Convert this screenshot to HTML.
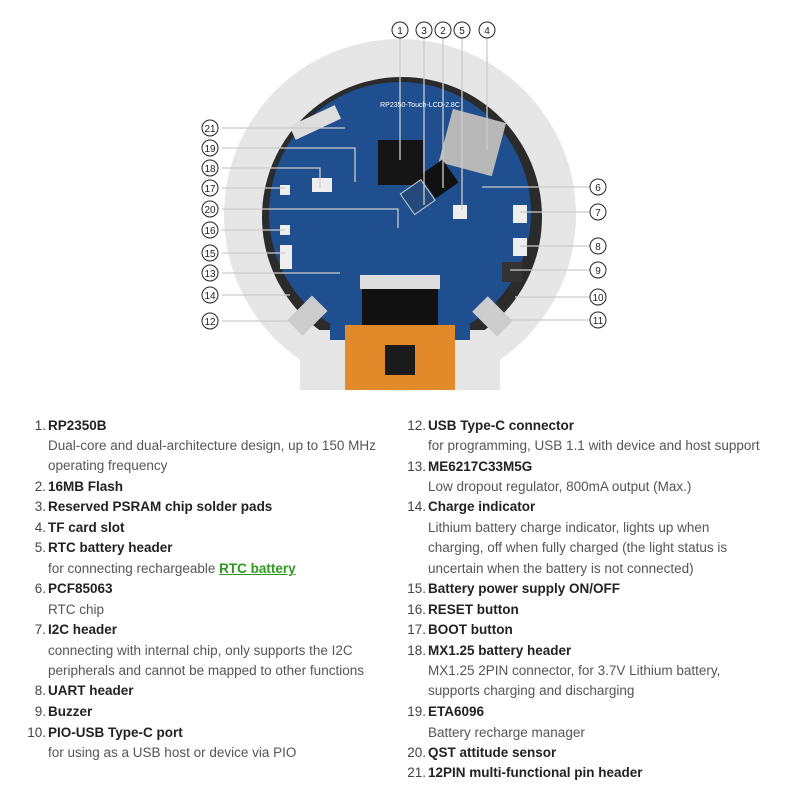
<!DOCTYPE html>
<html><head><meta charset="utf-8"><style>
body{margin:0;width:800px;height:800px;background:#fff;position:relative;overflow:hidden;font-family:"Liberation Sans",sans-serif}
.l{position:absolute;font-size:13.5px;line-height:18px;color:#555;white-space:nowrap}
.t{color:#222;font-weight:bold}
.n{position:absolute;font-size:13.5px;line-height:18px;color:#444;text-align:right}
a{color:#2e9a1e;font-weight:bold;text-decoration:underline}
</style></head><body>
<svg width="800" height="400" style="position:absolute;left:0;top:0">
<circle cx="400" cy="215" r="176" fill="#e6e6e6"/>
<circle cx="402" cy="217" r="140" fill="#2b2b2b"/>
<rect x="300" y="330" width="200" height="60" fill="#e6e6e6"/>
<circle cx="400" cy="213" r="131" fill="#1f4f8f"/>
<rect x="330" y="300" width="140" height="40" fill="#1f4f8f"/>
<rect x="362" y="285" width="76" height="65" fill="#111"/>
<rect x="345" y="325" width="110" height="65" fill="#e28a2a"/>
<rect x="385" y="345" width="30" height="30" fill="#1a1a1a"/>
<rect x="360" y="275" width="80" height="14" fill="#ddd"/>
<rect x="378" y="140" width="45" height="45" fill="#151515"/>
<rect x="445" y="115" width="55" height="55" fill="#b8b8b8" transform="rotate(15 472 142)"/>
<rect x="425" y="165" width="28" height="28" fill="#111" transform="rotate(-35 439 179)"/>
<rect x="405" y="185" width="25" height="25" fill="#234a7a" stroke="#ccc" transform="rotate(-35 417 197)"/>
<rect x="290" y="115" width="50" height="15" fill="#ddd" transform="rotate(-25 315 122)"/>
<rect x="513" y="205" width="14" height="18" fill="#eee"/>
<rect x="513" y="238" width="14" height="18" fill="#eee"/>
<rect x="502" y="262" width="20" height="20" fill="#333"/>
<rect x="312" y="178" width="20" height="14" fill="#eee"/>
<rect x="280" y="185" width="10" height="10" fill="#eee"/>
<rect x="280" y="225" width="10" height="10" fill="#eee"/>
<rect x="280" y="245" width="12" height="24" fill="#eee"/>
<rect x="453" y="205" width="14" height="14" fill="#eee"/>
<rect x="290" y="305" width="35" height="22" fill="#ccc" transform="rotate(-45 307 316)"/>
<rect x="475" y="305" width="35" height="22" fill="#ccc" transform="rotate(45 492 316)"/>
<g stroke="#ccc" stroke-width="1.3" fill="none">
<path d="M222 128H345M222 148H355V182M222 168H320V188M222 188H285M222 209H398V228M222 230H285M222 253H285M222 273H340M222 295H290M222 321H300"/>
<path d="M590 187H482M590 212H520M590 246H520M590 270H510M590 297H515M590 320H500"/>
<path d="M400 38V160M424 38V205M443 38V188M462 38V210M487 38V150"/>
</g>
<g fill="#fff" stroke="#222" stroke-width="1"><circle cx="210" cy="128" r="8"/><circle cx="210" cy="148" r="8"/><circle cx="210" cy="168" r="8"/><circle cx="210" cy="188" r="8"/><circle cx="210" cy="209" r="8"/><circle cx="210" cy="230" r="8"/><circle cx="210" cy="253" r="8"/><circle cx="210" cy="273" r="8"/><circle cx="210" cy="295" r="8"/><circle cx="210" cy="321" r="8"/>
<circle cx="598" cy="187" r="8"/><circle cx="598" cy="212" r="8"/><circle cx="598" cy="246" r="8"/><circle cx="598" cy="270" r="8"/><circle cx="598" cy="297" r="8"/><circle cx="598" cy="320" r="8"/>
<circle cx="400" cy="30" r="8"/><circle cx="424" cy="30" r="8"/><circle cx="443" cy="30" r="8"/><circle cx="462" cy="30" r="8"/><circle cx="487" cy="30" r="8"/></g>
<g font-size="10" text-anchor="middle" fill="#222" font-family="Liberation Sans">
<text x="210" y="132">21</text><text x="210" y="152">19</text><text x="210" y="172">18</text><text x="210" y="192">17</text><text x="210" y="213">20</text><text x="210" y="234">16</text><text x="210" y="257">15</text><text x="210" y="277">13</text><text x="210" y="299">14</text><text x="210" y="325">12</text>
<text x="598" y="191">6</text><text x="598" y="216">7</text><text x="598" y="250">8</text><text x="598" y="274">9</text><text x="598" y="301">10</text><text x="598" y="324">11</text>
<text x="400" y="34">1</text><text x="424" y="34">3</text><text x="443" y="34">2</text><text x="462" y="34">5</text><text x="487" y="34">4</text>
<text x="420" y="107" font-size="7" fill="#fff">RP2350-Touch-LCD-2.8C</text>
</g>
</svg>
<div class="n" style="left:20px;width:26px;top:417px">1.</div><div class="l t" style="left:48px;top:417px">RP2350B</div>
<div class="l" style="left:48px;top:437px">Dual-core and dual-architecture design, up to 150 MHz</div>
<div class="l" style="left:48px;top:457px">operating frequency</div>
<div class="n" style="left:20px;width:26px;top:478px">2.</div><div class="l t" style="left:48px;top:478px">16MB Flash</div>
<div class="n" style="left:20px;width:26px;top:498px">3.</div><div class="l t" style="left:48px;top:498px">Reserved PSRAM chip solder pads</div>
<div class="n" style="left:20px;width:26px;top:519px">4.</div><div class="l t" style="left:48px;top:519px">TF card slot</div>
<div class="n" style="left:20px;width:26px;top:539px">5.</div><div class="l t" style="left:48px;top:539px">RTC battery header</div>
<div class="l" style="left:48px;top:560px">for connecting rechargeable <a>RTC battery</a></div>
<div class="n" style="left:20px;width:26px;top:580px">6.</div><div class="l t" style="left:48px;top:580px">PCF85063</div>
<div class="l" style="left:48px;top:601px">RTC chip</div>
<div class="n" style="left:20px;width:26px;top:621px">7.</div><div class="l t" style="left:48px;top:621px">I2C header</div>
<div class="l" style="left:48px;top:642px">connecting with internal chip, only supports the I2C</div>
<div class="l" style="left:48px;top:662px">peripherals and cannot be mapped to other functions</div>
<div class="n" style="left:20px;width:26px;top:682px">8.</div><div class="l t" style="left:48px;top:682px">UART header</div>
<div class="n" style="left:20px;width:26px;top:703px">9.</div><div class="l t" style="left:48px;top:703px">Buzzer</div>
<div class="n" style="left:10px;width:36px;top:724px">10.</div><div class="l t" style="left:48px;top:724px">PIO-USB Type-C port</div>
<div class="l" style="left:48px;top:744px">for using as a USB host or device via PIO</div>

<div class="n" style="left:390px;width:36px;top:417px">12.</div><div class="l t" style="left:428px;top:417px">USB Type-C connector</div>
<div class="l" style="left:428px;top:437px">for programming, USB 1.1 with device and host support</div>
<div class="n" style="left:390px;width:36px;top:458px">13.</div><div class="l t" style="left:428px;top:458px">ME6217C33M5G</div>
<div class="l" style="left:428px;top:478px">Low dropout regulator, 800mA output (Max.)</div>
<div class="n" style="left:390px;width:36px;top:498px">14.</div><div class="l t" style="left:428px;top:498px">Charge indicator</div>
<div class="l" style="left:428px;top:519px">Lithium battery charge indicator, lights up when</div>
<div class="l" style="left:428px;top:539px">charging, off when fully charged (the light status is</div>
<div class="l" style="left:428px;top:560px">uncertain when the battery is not connected)</div>
<div class="n" style="left:390px;width:36px;top:580px">15.</div><div class="l t" style="left:428px;top:580px">Battery power supply ON/OFF</div>
<div class="n" style="left:390px;width:36px;top:601px">16.</div><div class="l t" style="left:428px;top:601px">RESET button</div>
<div class="n" style="left:390px;width:36px;top:621px">17.</div><div class="l t" style="left:428px;top:621px">BOOT button</div>
<div class="n" style="left:390px;width:36px;top:642px">18.</div><div class="l t" style="left:428px;top:642px">MX1.25 battery header</div>
<div class="l" style="left:428px;top:662px">MX1.25 2PIN connector, for 3.7V Lithium battery,</div>
<div class="l" style="left:428px;top:682px">supports charging and discharging</div>
<div class="n" style="left:390px;width:36px;top:703px">19.</div><div class="l t" style="left:428px;top:703px">ETA6096</div>
<div class="l" style="left:428px;top:724px">Battery recharge manager</div>
<div class="n" style="left:390px;width:36px;top:744px">20.</div><div class="l t" style="left:428px;top:744px">QST attitude sensor</div>
<div class="n" style="left:390px;width:36px;top:764px">21.</div><div class="l t" style="left:428px;top:764px">12PIN multi-functional pin header</div>
</body></html>
